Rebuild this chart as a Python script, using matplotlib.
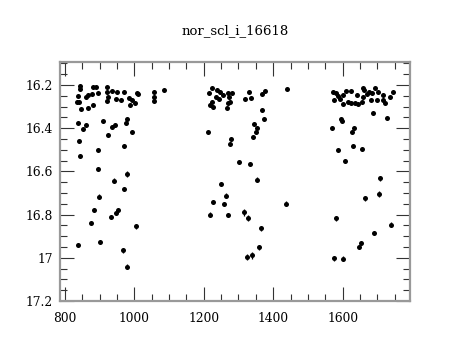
import matplotlib
matplotlib.use("Agg")
import matplotlib.pyplot as plt
from matplotlib.ticker import MultipleLocator

# --- data (time, magnitude, error) ---
x1 = [843, 843, 839, 836, 842, 846, 860, 868, 878, 868, 880, 880, 891, 896, 920, 920,
      923, 920, 937, 949, 947, 963, 970, 985, 992, 989, 1002, 1007, 1012, 1056, 1056,
      1056, 1085,
      838, 860, 851, 910, 925, 936, 943, 978, 976, 993, 840, 845, 895, 970, 896, 978,
      941, 971, 898, 883, 953, 948, 934, 875, 1004, 902, 838, 967, 980]
y1 = [16.205, 16.219, 16.251, 16.277, 16.277, 16.311, 16.257, 16.246, 16.243, 16.305,
      16.292, 16.211, 16.208, 16.238, 16.212, 16.233, 16.255, 16.274, 16.228, 16.235,
      16.266, 16.269, 16.232, 16.259, 16.269, 16.295, 16.284, 16.238, 16.241, 16.231,
      16.254, 16.274, 16.225,
      16.374, 16.386, 16.404, 16.369, 16.431, 16.395, 16.385, 16.358, 16.377, 16.417,
      16.459, 16.529, 16.500, 16.481, 16.588, 16.612, 16.643, 16.683, 16.717, 16.780,
      16.780, 16.792, 16.812, 16.838, 16.854, 16.928, 16.940, 16.966, 17.041]

x2 = [1224, 1216, 1237, 1247, 1235, 1256, 1245, 1223, 1218, 1228, 1271, 1280, 1273,
      1275, 1269, 1266, 1330, 1320, 1336, 1376, 1369, 1441,
      1367, 1373, 1345, 1352, 1350, 1343, 1212, 1278, 1275, 1302, 1333, 1354, 1251,
      1264, 1227, 1259, 1438, 1219, 1271, 1316, 1328, 1365, 1359, 1324, 1340]
y2 = [16.215, 16.238, 16.223, 16.234, 16.254, 16.246, 16.266, 16.277, 16.292, 16.303,
      16.238, 16.238, 16.257, 16.277, 16.284, 16.305, 16.231, 16.263, 16.259, 16.228,
      16.243, 16.217,
      16.317, 16.357, 16.379, 16.400, 16.418, 16.441, 16.420, 16.451, 16.474, 16.555,
      16.568, 16.638, 16.660, 16.712, 16.743, 16.751, 16.749, 16.800, 16.801, 16.789,
      16.818, 16.863, 16.952, 16.997, 16.989]

x3 = [1571, 1581, 1575, 1588, 1592, 1602, 1610, 1623, 1602, 1615, 1624, 1636, 1645,
      1642, 1658, 1662, 1658, 1656, 1669, 1677, 1684, 1681, 1693, 1703, 1699, 1716,
      1717, 1721, 1737, 1744,
      1688, 1729, 1595, 1599, 1570, 1632, 1627, 1588, 1629, 1657, 1607, 1708, 1704,
      1665, 1581, 1739, 1691, 1652, 1647, 1575, 1600]
y3 = [16.231, 16.238, 16.272, 16.251, 16.266, 16.246, 16.228, 16.229, 16.289, 16.277,
      16.284, 16.284, 16.289, 16.246, 16.215, 16.223, 16.254, 16.281, 16.241, 16.231,
      16.238, 16.269, 16.215, 16.234, 16.272, 16.246, 16.269, 16.284, 16.257, 16.234,
      16.332, 16.355, 16.357, 16.368, 16.400, 16.400, 16.417, 16.503, 16.481, 16.497,
      16.552, 16.632, 16.706, 16.725, 16.818, 16.846, 16.886, 16.931, 16.951, 17.002,
      17.004]

# error estimates (bright points small, faint points larger)
e1 = [0.007] * 33 + [0.008, 0.008, 0.008, 0.008, 0.008, 0.008, 0.008, 0.008, 0.008,
                     0.008, 0.009, 0.009, 0.009, 0.009, 0.010, 0.012, 0.010, 0.010,
                     0.010, 0.010, 0.010, 0.010, 0.010, 0.010, 0.011, 0.010, 0.010,
                     0.012, 0.012]
e2 = [0.007] * 22 + [0.008, 0.008, 0.008, 0.008, 0.008, 0.008, 0.008, 0.009, 0.009,
                     0.009, 0.009, 0.012, 0.010, 0.010, 0.010, 0.010, 0.010, 0.010,
                     0.010, 0.016, 0.014, 0.011, 0.012, 0.014, 0.015]
e3 = [0.007] * 30 + [0.008, 0.008, 0.008, 0.008, 0.008, 0.008, 0.008, 0.009, 0.009,
                     0.009, 0.009, 0.012, 0.015, 0.010, 0.010, 0.010, 0.010, 0.010,
                     0.010, 0.012, 0.012]

title = "nor_scl_i_16618"

plt.rcParams['font.family'] = ['DejaVu Serif']
fig = plt.figure(figsize=(4.6, 3.4), dpi=100)
ax = fig.add_axes([60/460, 39/340, 350/460, 239/340])

xs = x1 + x2 + x3
ys = y1 + y2 + y3
es = e1 + e2 + e3
ax.errorbar(xs, ys, yerr=es, fmt='o', color='black', ms=3.6, mew=0,
            elinewidth=0.9, capsize=2, capthick=0.9)

ax.set_xlim(786, 1794)
ax.set_ylim(17.2, 16.094)
ax.xaxis.set_minor_locator(MultipleLocator(50))
ax.yaxis.set_minor_locator(MultipleLocator(0.05))
ax.set_yticks([16.2, 16.4, 16.6, 16.8, 17.0, 17.2])
ax.set_yticklabels(['16.2', '16.4', '16.6', '16.8', '17', '17.2'])
ax.set_xticks([800, 1000, 1200, 1400, 1600])

ax.tick_params(which='both', direction='in', top=True, right=True,
               color='#333333', width=0.8, labelsize=8.8)
ax.tick_params(which='major', length=10)
ax.tick_params(which='minor', length=5)
ax.tick_params(axis='x', which='major', pad=8)
ax.tick_params(axis='y', which='major', pad=5)
for s in ax.spines.values():
    s.set_color('#999999')
    s.set_linewidth(1.6)

ax.set_title(title, fontsize=9.5, pad=20)

fig.savefig('out.png', dpi=100)
